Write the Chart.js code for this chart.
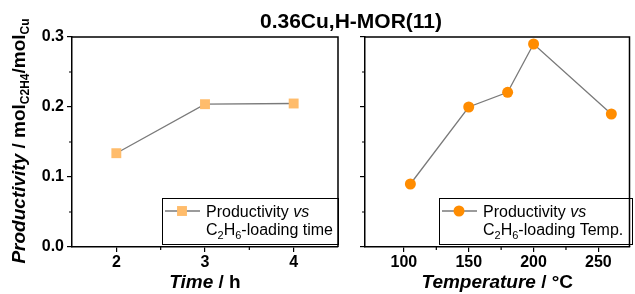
<!DOCTYPE html>
<html>
<head>
<meta charset="utf-8">
<script src="https://cdn.jsdelivr.net/npm/chart.js@4.4.0/dist/chart.umd.min.js"></script>
<style>
  body { margin: 0; background: #fff; }
  #wrap { position: relative; width: 635px; height: 294px; overflow: hidden; }
  canvas { position: absolute; top: 0; }
  #c1 { left: 0; }
  #c2 { left: 345px; }
  #title {
    position: absolute; left: 0; width: 702px; top: 10px; text-align: center;
    font: bold 21px "Liberation Sans", Arial, sans-serif; line-height: 1; color: #000;
  }
</style>
</head>
<body>
<div id="wrap">
  <canvas id="c1" width="345" height="294"></canvas>
  <canvas id="c2" width="290" height="294"></canvas>
  <div id="title">0.36Cu,H-MOR(11)</div>
</div>
<script>
// data
const timeH = [2, 3, 4];
const prodByTime = [0.134, 0.204, 0.205];
const tempC = [105, 150, 180, 200, 260];
const prodByTemp = [0.09, 0.2, 0.221, 0.29, 0.19];

const yTicks = [0, 0.1, 0.2, 0.3];
const yMinor = [0.05, 0.15, 0.25];
const timeTicks = [2, 3, 4];
const timeMinor = [2.5, 3.5];
const tempTicks = [100, 150, 200, 250];
const tempMinor = [125, 175, 225];

const FAM = '"Liberation Sans", Arial, sans-serif';
Chart.defaults.font.family = FAM;
Chart.defaults.color = "#000";

// draw a row of text pieces (some italic / subscript)
function drawRuns(ctx, runs, x, y, align) {
  let total = 0;
  runs.forEach((r) => {
    ctx.font = r.font;
    r.w = ctx.measureText(r.t).width;
    total += r.w;
  });
  let cx = align === "center" ? x - total / 2 : x;
  runs.forEach((r) => {
    ctx.font = r.font;
    ctx.fillText(r.t, cx, y + (r.dy || 0));
    cx += r.w;
  });
}

const decorPlugin = {
  id: "decor",
  afterDraw(chart, args, o) {
    const { ctx, chartArea: a } = chart;
    const xs = chart.scales.x, ys = chart.scales.y;
    ctx.save();
    ctx.strokeStyle = "#000";
    // box top / right
    ctx.lineWidth = 1.5;
    ctx.beginPath();
    ctx.moveTo(a.left, a.top);
    ctx.lineTo(a.right, a.top);
    ctx.lineTo(a.right, a.bottom);
    ctx.stroke();
    // minor ticks
    ctx.lineWidth = 1.2;
    ctx.beginPath();
    o.xMinor.forEach((v) => {
      const p = xs.getPixelForValue(v);
      ctx.moveTo(p, a.bottom);
      ctx.lineTo(p, a.bottom + 3);
    });
    yMinor.forEach((v) => {
      const p = ys.getPixelForValue(v);
      ctx.moveTo(a.left, p);
      ctx.lineTo(a.left - 3, p);
    });
    ctx.stroke();

    // x title
    ctx.fillStyle = "#000";
    ctx.textBaseline = "alphabetic";
    ctx.textAlign = "left";
    drawRuns(ctx, o.xTitle, (a.left + a.right) / 2, 288, "center");

    // y title
    if (o.yTitle) {
      ctx.save();
      ctx.translate(25, 141);
      ctx.rotate(-Math.PI / 2);
      drawRuns(ctx, o.yTitle, 0, 0, "center");
      ctx.restore();
    }

    // legend
    const L = o.legend;
    ctx.lineWidth = 1;
    ctx.strokeStyle = "#000";
    ctx.strokeRect(L.x0 + 0.5, L.y0 + 0.5, L.x1 - L.x0, L.y1 - L.y0);
    const ds = chart.data.datasets[0];
    ctx.strokeStyle = ds.borderColor;
    ctx.lineWidth = ds.borderWidth;
    ctx.beginPath();
    ctx.moveTo(L.x0 + 3, 211);
    ctx.lineTo(L.x0 + 38, 211);
    ctx.stroke();
    ctx.fillStyle = ds.pointBackgroundColor;
    ctx.strokeStyle = ds.pointBorderColor;
    Chart.helpers.drawPoint(ctx, { pointStyle: ds.pointStyle, radius: ds.pointRadius, borderWidth: 0, rotation: 0 }, L.x0 + 20, 211);
    ctx.fillStyle = "#000";
    drawRuns(ctx, [
      { t: "Productivity ", font: "16px " + FAM },
      { t: "vs", font: "italic 16px " + FAM },
    ], L.x0 + 44, 217);
    drawRuns(ctx, [
      { t: "C", font: "16px " + FAM },
      { t: "2", font: "11px " + FAM, dy: 4 },
      { t: "H", font: "16px " + FAM },
      { t: "6", font: "11px " + FAM, dy: 4 },
      { t: o.legendTail, font: "16px " + FAM },
    ], L.x0 + 44, 235);
    ctx.restore();
  },
};

function axisX(min, max, majors) {
  return {
    type: "linear",
    min: min,
    max: max,
    afterBuildTicks: (s) => { s.ticks = majors.map((v) => ({ value: v })); },
    afterFit: (s) => { s.height = 47; },
    ticks: { font: { size: 16, weight: "bold" }, color: "#000", padding: 1 },
    grid: { drawOnChartArea: false, drawTicks: true, tickLength: 5, color: "#000", lineWidth: 1.2 },
    border: { color: "#000", width: 1.5 },
  };
}

function axisY(width, showLabels) {
  return {
    type: "linear",
    min: 0,
    max: 0.3,
    afterBuildTicks: (s) => { s.ticks = yTicks.map((v) => ({ value: v })); },
    afterFit: (s) => { s.width = width; },
    ticks: {
      font: { size: 16, weight: "bold" },
      color: "#000",
      padding: 3,
      callback: (v) => (showLabels ? v.toFixed(1) : ""),
    },
    grid: { drawOnChartArea: false, drawTicks: true, tickLength: 5, color: "#000", lineWidth: 1.2 },
    border: { color: "#000", width: 1.5 },
  };
}

function toPoints(xs, ys) {
  return xs.map((x, i) => ({ x: x, y: ys[i] }));
}

new Chart(document.getElementById("c1"), {
  type: "scatter",
  data: {
    datasets: [{
      data: toPoints(timeH, prodByTime),
      showLine: true,
      borderColor: "#7a7a7a",
      borderWidth: 1.3,
      pointStyle: "rect",
      pointRadius: 7,
      pointBackgroundColor: "#ffbc6b",
      pointBorderColor: "#ffbc6b",
      pointBorderWidth: 0,
    }],
  },
  options: {
    responsive: false,
    animation: false,
    layout: { padding: { left: 0, top: 37, right: 5, bottom: 0 } },
    scales: { x: axisX(1.5, 4.5, timeTicks), y: axisY(72, true) },
    plugins: {
      legend: { display: false },
      tooltip: { enabled: false },
      decor: {
        xMinor: timeMinor,
        xTitle: [
          { t: "Time", font: "italic bold 19px " + FAM },
          { t: " / h", font: "bold 19px " + FAM },
        ],
        yTitle: [
          { t: "Productivity", font: "italic bold 19px " + FAM },
          { t: " / mol", font: "bold 19px " + FAM },
          { t: "C2H4", font: "bold 12px " + FAM, dy: 4 },
          { t: "/mol", font: "bold 19px " + FAM },
          { t: "Cu", font: "bold 12px " + FAM, dy: 4 },
        ],
        legend: { x0: 162, y0: 198, x1: 338, y1: 244 },
        legendTail: "-loading time",
      },
    },
  },
  plugins: [decorPlugin],
});

new Chart(document.getElementById("c2"), {
  type: "scatter",
  data: {
    datasets: [{
      data: toPoints(tempC, prodByTemp),
      showLine: true,
      borderColor: "#7a7a7a",
      borderWidth: 1.3,
      pointStyle: "circle",
      pointRadius: 5.5,
      pointBackgroundColor: "#ff8c00",
      pointBorderColor: "#ff8c00",
      pointBorderWidth: 0,
    }],
  },
  options: {
    responsive: false,
    animation: false,
    layout: { padding: { left: 0, top: 37, right: 2, bottom: 0 } },
    scales: { x: axisX(70, 274, tempTicks), y: axisY(20, false) },
    plugins: {
      legend: { display: false },
      tooltip: { enabled: false },
      decor: {
        xMinor: tempMinor,
        xTitle: [
          { t: "Temperature", font: "italic bold 19px " + FAM },
          { t: " / \u00b0C", font: "bold 19px " + FAM },
        ],
        legend: { x0: 94, y0: 198, x1: 287, y1: 244 },
        legendTail: "-loading Temp.",
      },
    },
  },
  plugins: [decorPlugin],
});
</script>
</body>
</html>
